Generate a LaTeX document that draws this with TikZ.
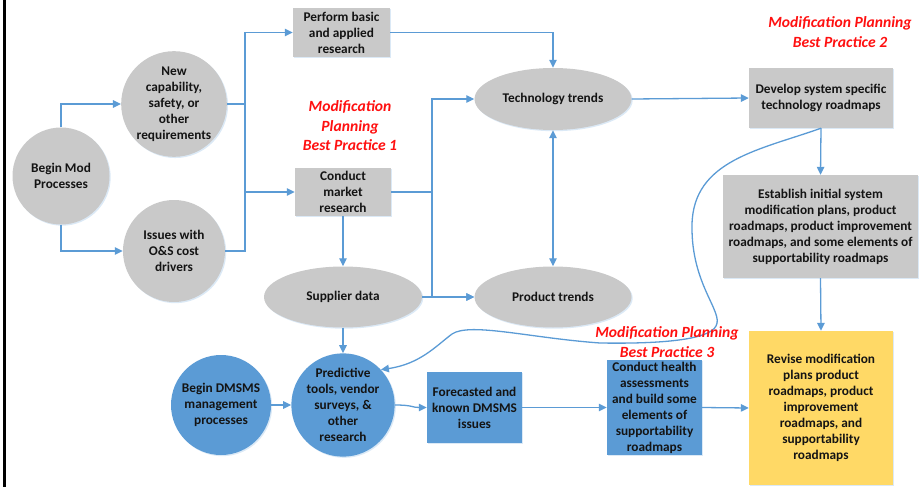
\documentclass[tikz,border=0pt]{standalone}
\usepackage{fontspec}
\setmainfont{Carlito}
\usetikzlibrary{arrows.meta,shapes.geometric,shadows}
\definecolor{boxgray}{HTML}{C9C9C9}
\definecolor{boxblue}{HTML}{5B9BD5}
\definecolor{boxyellow}{HTML}{FFD966}
\definecolor{linkblue}{HTML}{5B9BD5}
\definecolor{txt}{HTML}{141414}
\definecolor{notered}{HTML}{FF1010}
\begin{document}
\begin{tikzpicture}[x=1pt,y=-1pt,
  base/.style={font=\bfseries\fontsize{13.3}{16}\selectfont, text=txt, align=center,
    inner sep=0pt, drop shadow={shadow xshift=1.2pt,shadow yshift=-1.2pt,opacity=0.22,fill=linkblue}},
  graycirc/.style={base, circle, fill=boxgray, minimum size=#1},
  bluecirc/.style={base, circle, fill=boxblue, minimum size=#1},
  grayoval/.style={base, ellipse, fill=boxgray, minimum width=157pt, minimum height=61pt},
  graybox/.style={base, rectangle, fill=boxgray},
  bluebox/.style={base, rectangle, fill=boxblue},
  yellowbox/.style={base, rectangle, fill=boxyellow},
  note/.style={font=\bfseries\itshape\fontsize{15.6}{19.5}\selectfont, text=notered, align=center, inner sep=0pt},
  link/.style={draw=linkblue, line width=1.3pt, -{Triangle[length=8pt,width=7.5pt]}},
  plain/.style={draw=linkblue, line width=1.3pt},
]
\useasboundingbox (0,0) rectangle (919,487);
\fill[black] (3,0) rectangle (6,487);

% modification planning branch
\node[graycirc=97pt] (beginmod) at (61,176) {Begin Mod\\Processes};
\node[graycirc=102pt] (newcap) at (174,104) {New\\capability,\\safety, or\\other\\requirements};
\node[graycirc=102pt] (issues) at (174,251) {Issues with\\O\&S cost\\drivers};
\node[graybox, minimum width=97pt, minimum height=49pt] (perform) at (341.5,32.5) {Perform basic\\and applied\\research};
\node[graybox, minimum width=96pt, minimum height=48pt] (market) at (343,192) {Conduct\\market\\research};
\node[grayoval, minimum height=62pt] (tech) at (553,99) {Technology trends};
\node[grayoval, minimum width=158pt] (supplier) at (343,297) {Supplier data};
\node[grayoval] (product) at (553,297) {Product trends};
\node[graybox, minimum width=144pt, minimum height=60pt] (develop) at (821,98) {Develop system specific\\technology roadmaps};
\node[graybox, minimum width=195pt, minimum height=103pt] (establish) at (820.5,226.5) {Establish initial system\\modification plans, product\\roadmaps, product improvement\\roadmaps, and some elements of\\supportability roadmaps};
\node[yellowbox, minimum width=144pt, minimum height=154pt] (revise) at (821,408) {Revise modification\\plans product\\roadmaps, product\\improvement\\roadmaps, and\\supportability\\roadmaps};

% DMSMS branch
\node[bluecirc=100pt] (dmsms) at (221,405) {Begin DMSMS\\management\\processes};
\node[bluecirc=98pt] (pred) at (343,405) {Predictive\\tools, vendor\\surveys, \&\\other\\research};
\node[bluebox, minimum width=95pt, minimum height=71pt] (forecast) at (474.5,407.5) {Forecasted and\\known DMSMS\\issues};
\node[bluebox, minimum width=95pt, minimum height=95pt] (health) at (654.5,407.5) {Conduct health\\assessments\\and build some\\elements of\\supportability\\roadmaps};

% junction points
\coordinate (split) at (245,104);
\coordinate (fork) at (432,192);

% connectors
\draw[link] (beginmod.north) |- (newcap.west);
\draw[link] (beginmod.south) |- (issues.west);
\draw[plain] (newcap.east) -- (split);
\draw[plain] (issues.east) -| (split);
\draw[link] (split) |- (perform.west);
\draw[link] (split) |- (market.west);
\draw[link] (perform.east) -| (tech.north);
\draw[plain] (market.east) -- (fork);
\draw[link] (fork) |- (tech.west);
\draw[link] (fork) |- (product.west);
\draw[link] (supplier.east) -- (product.west);
\draw[link] (market.south) -- (supplier.north);
\draw[link, {Triangle[length=8pt,width=7.5pt]}-{Triangle[length=8pt,width=7.5pt]}] (tech.south) -- (product.north);
\draw[link] (supplier.south) -- (pred.north);
\draw[link] (tech.east) -- (develop.west);
\draw[link] (develop.south) -- (establish.north);
\draw[link] (establish.south) -- (revise.north);
\draw[link] (dmsms.east) -- (pred.west);
\draw[link] (pred.east) .. controls +(18,0) and +(-15,0) .. (forecast.west);
\draw[link] (forecast.east) -- (health.west);
\draw[link] (health.east) -- (revise.west);
\draw[link] (develop.south)
  .. controls (760,150) and (693,160) .. (692,225)
  .. controls (691,285) and (724,312) .. (716,326)
  .. controls (709,340) and (660,344) .. (600,343)
  .. controls (530,338) and (470,322) .. (452,334)
  .. controls (436,346) and (420,364) .. (pred.43);

% best-practice callouts
\node[note] (bpone) at (350,126) {Modification\\Planning\\Best Practice 1};
\node[note] (bptwo) at (840,32) {Modification Planning\\Best Practice 2};
\node[note] (bpthree) at (667,342) {Modification Planning\\Best Practice 3};
\end{tikzpicture}
\end{document}
